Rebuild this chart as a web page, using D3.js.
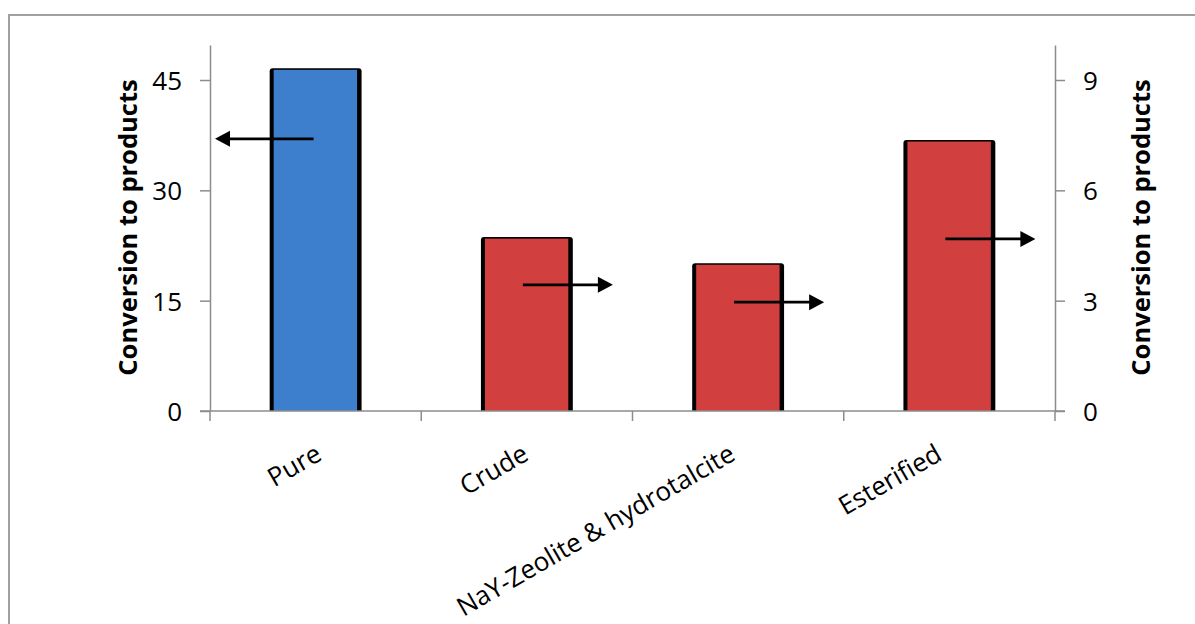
<!DOCTYPE html>
<html>
<head>
<meta charset="utf-8">
<script src="https://cdn.jsdelivr.net/npm/d3@7"></script>
<style>
  html, body { margin: 0; padding: 0; background: #fff; }
  svg { display: block; }
  text { font-family: "Open Sans", "Noto Sans", sans-serif; fill: #000; }
</style>
</head>
<body>
<svg id="chart" width="1195" height="624"></svg>
<script>
// Categories and conversion values
const categories = ["Pure", "Crude", "NaY-Zeolite & hydrotalcite", "Esterified"];
// Pure oil is read on the left axis, the other feedstocks on the right axis
const leftValues = [46.6, null, null, null];
const rightValues = [null, 4.73, 4.02, 7.37];
const barColors = ["#3d7fcc", "#d1403f", "#d1403f", "#d1403f"];
// Arrows point to the axis each bar belongs to (height in that axis' units)
const arrowAxis = ["left", "right", "right", "right"];
const arrowLevel = [37.0, 3.43, 2.96, 4.68];
const leftTicks = [0, 15, 30, 45];
const rightTicks = [0, 3, 6, 9];
const axisTitle = "Conversion to products";

const svg = d3.select("#chart");
const W = 1195, H = 624;
const plot = { left: 210, right: 1055, top: 45, bottom: 411 };

// Outer frame (top and left edges visible)
svg.append("path")
  .attr("d", `M9,${H} V15 H${W}`)
  .attr("fill", "none").attr("stroke", "#a0a0a0").attr("stroke-width", 2);

const x = d3.scaleBand().domain(categories).range([plot.left, plot.right]);
// category labels sit on a slightly inset band
const xLabel = d3.scaleBand().domain(categories).range([plot.left + 8, plot.right - 10]);
const yL = d3.scaleLinear().domain([0, 45 * (plot.bottom - plot.top) / (411 - 80)]).range([plot.bottom, plot.top]);
const yR = d3.scaleLinear().domain([0, 9 * (plot.bottom - plot.top) / (411 - 80)]).range([plot.bottom, plot.top]);

const barW = x.bandwidth() * 0.435;

// Bars
const bars = categories.map((c, i) => {
  const isLeft = leftValues[i] != null;
  const v = isLeft ? leftValues[i] : rightValues[i];
  return { c, i, y: isLeft ? yL(v) : yR(v) };
});

const gBars = svg.append("g");
bars.forEach(b => {
  const cx = x(b.c) + x.bandwidth() / 2;
  const x0 = cx - barW / 2, x1 = cx + barW / 2;
  // dark outline / shadow behind each bar
  gBars.append("path")
    .attr("d", `M${x0},${plot.bottom} V${b.y + 3} Q${x0},${b.y} ${x0 + 3},${b.y} H${x1 - 3} Q${x1},${b.y} ${x1},${b.y + 3} V${plot.bottom} Z`)
    .attr("fill", "#000");
  gBars.append("rect")
    .attr("x", x0 + 4).attr("y", b.y + 1.6)
    .attr("width", barW - 8.5).attr("height", plot.bottom - b.y - 1.6)
    .attr("fill", barColors[b.i]);
});

// Axes
const axisColor = "#8c8c8c";
function styleAxis(g) {
  g.selectAll(".domain").attr("stroke", axisColor).attr("stroke-width", 1.5);
  g.selectAll(".tick line").attr("stroke", axisColor).attr("stroke-width", 1.5);
  g.selectAll(".tick text").attr("font-size", 26).attr("fill", "#000");
}

const gL = svg.append("g").attr("transform", `translate(${plot.left},0)`)
  .call(d3.axisLeft(yL).tickValues(leftTicks).tickSize(10).tickSizeOuter(0).tickPadding(18));
styleAxis(gL);
gL.selectAll(".tick text").attr("dy", "0.36em");

const gR = svg.append("g").attr("transform", `translate(${plot.right},0)`)
  .call(d3.axisRight(yR).tickValues(rightTicks).tickSize(10).tickSizeOuter(0).tickPadding(18));
styleAxis(gR);
gR.selectAll(".tick text").attr("dy", "0.36em");

// Category axis with boundary ticks
const gX = svg.append("g").attr("transform", `translate(0,${plot.bottom})`);
gX.append("line").attr("x1", plot.left - 10).attr("x2", plot.right + 10)
  .attr("stroke", axisColor).attr("stroke-width", 1.5);
const boundaries = categories.map(c => x(c)).concat([x(categories[categories.length - 1]) + x.bandwidth()]);
gX.selectAll("line.tk").data(boundaries).join("line").attr("class", "tk")
  .attr("x1", d => d).attr("x2", d => d).attr("y1", 0).attr("y2", 10)
  .attr("stroke", axisColor).attr("stroke-width", 1.5);

gX.selectAll("text.cat").data(categories).join("text").attr("class", "cat")
  .attr("font-size", 26)
  .attr("text-anchor", "end")
  .attr("transform", c => `translate(${xLabel(c) + xLabel.bandwidth() / 2 + 2},${48}) rotate(-30)`)
  .text(c => c);

// Axis titles
svg.append("text")
  .attr("transform", `translate(137,${(80 + 375) / 2}) rotate(-90)`)
  .attr("text-anchor", "middle").attr("font-size", 25.5).attr("font-weight", "bold")
  .text(axisTitle);
svg.append("text")
  .attr("transform", `translate(1150,${(80 + 375) / 2}) rotate(-90)`)
  .attr("text-anchor", "middle").attr("font-size", 25.5).attr("font-weight", "bold")
  .text(axisTitle);

// Arrows showing which axis each bar belongs to
const gA = svg.append("g");
const headLen = 15, headHalf = 8;
categories.forEach((c, i) => {
  const cx = x(c) + x.bandwidth() / 2;
  const left = arrowAxis[i] === "left";
  const y = left ? yL(arrowLevel[i]) : yR(arrowLevel[i]);
  const xs = left ? cx - 2 : cx - 4;
  const xe = left ? plot.left + 5 : cx + 86;
  const dir = Math.sign(xe - xs);
  gA.append("line")
    .attr("x1", xs).attr("x2", xe - dir * headLen * 0.8).attr("y1", y).attr("y2", y)
    .attr("stroke", "#000").attr("stroke-width", 2.8);
  gA.append("path")
    .attr("d", `M${xe},${y} L${xe - dir * headLen},${y - headHalf} L${xe - dir * headLen},${y + headHalf} Z`)
    .attr("fill", "#000");
});
</script>
</body>
</html>
